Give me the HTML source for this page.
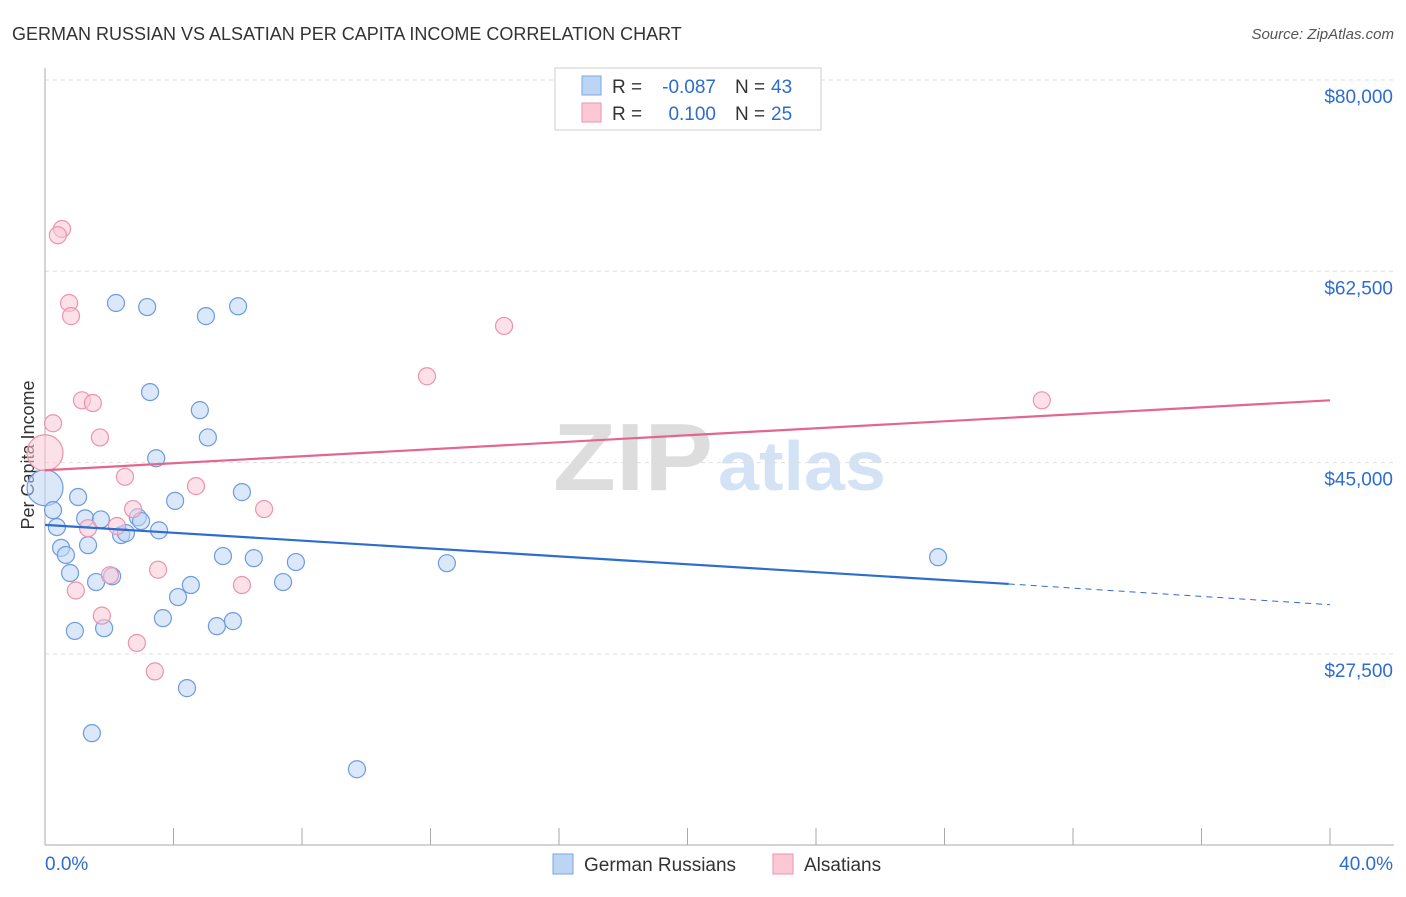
<!DOCTYPE html>
<html><head><meta charset="utf-8"><style>
body{margin:0;background:#fff;font-family:"Liberation Sans",sans-serif}
svg text{font-family:"Liberation Sans",sans-serif}
</style></head><body>
<svg id="c" width="1406" height="892">
<text x="12" y="40" font-size="18" fill="#333">GERMAN RUSSIAN VS ALSATIAN PER CAPITA INCOME CORRELATION CHART</text>
<text x="1394" y="39" font-size="15" fill="#555" text-anchor="end" font-style="italic">Source: ZipAtlas.com</text>
<text x="553" y="490" font-size="96" fill="#ddd" font-family="Liberation Serif" font-weight="bold" textLength="160" lengthAdjust="spacingAndGlyphs">ZIP</text>
<text x="718" y="490" font-size="70" fill="#d3e3f5" font-weight="bold" textLength="168" lengthAdjust="spacingAndGlyphs">atlas</text>
<text transform="translate(34,455) rotate(-90)" font-size="18" fill="#333" text-anchor="middle">Per Capita Income</text>
<g id="grid"></g><g id="marks"></g><g id="trend"></g>
<g>
<rect x="555" y="68" width="266" height="62" fill="#fff" stroke="#ccc"/>
<rect x="582" y="76" width="19" height="19" fill="#bcd5f5" stroke="#7aa6e0"/>
<rect x="582" y="103" width="19" height="19" fill="#fbc8d6" stroke="#ec93ad"/>
<text x="612" y="93" font-size="19" fill="#333">R =</text>
<text x="716" y="93" font-size="19" fill="#2d6cd0" text-anchor="end">-0.087</text>
<text x="735" y="93" font-size="19" fill="#333">N =</text>
<text x="771" y="93" font-size="19" fill="#2d6cd0">43</text>
<text x="612" y="120" font-size="19" fill="#333">R =</text>
<text x="716" y="120" font-size="19" fill="#2d6cd0" text-anchor="end">0.100</text>
<text x="735" y="120" font-size="19" fill="#333">N =</text>
<text x="771" y="120" font-size="19" fill="#2d6cd0">25</text>
</g>
<g>
<rect x="553" y="854" width="20" height="20" fill="#bcd5f5" stroke="#7aa6e0"/>
<text x="584" y="871" font-size="19" fill="#333">German Russians</text>
<rect x="773" y="854" width="20" height="20" fill="#fbc8d6" stroke="#ec93ad"/>
<text x="804" y="871" font-size="19" fill="#333">Alsatians</text>
</g>
</svg>
<script>
const yTicks=[80000,62500,45000,27500];
const yTickLabels=["$80,000","$62,500","$45,000","$27,500"];
const blueX=[2.21,3.18,5.01,6.01,3.27,4.82,5.07,3.46,0,1.03,4.05,6.13,0.25,1.25,1.74,2.89,2.99,0.37,2.37,2.52,3.55,0.5,1.34,0.65,5.54,6.5,7.81,12.51,27.8,0.78,1.59,2.09,4.54,7.41,4.14,3.67,5.35,5.85,0.93,1.84,4.42,1.46,9.71];
const blueY=[59600,59230,58400,59300,51450,49800,47300,45400,42700,41850,41500,42300,40650,39900,39800,40000,39650,39100,38370,38550,38800,37200,37450,36550,36450,36260,35900,35800,36350,34900,34070,34600,33800,34070,32700,30770,30040,30500,29600,29850,24370,20250,16950];
const pinkX=[0.53,0.4,0.75,0.81,14.29,11.89,31.03,1.15,1.49,0.25,1.71,0,2.49,4.7,2.74,6.82,1.34,2.24,3.52,2.02,6.13,0.96,1.77,2.86,3.42];
const pinkY=[66370,65800,59600,58400,57500,52900,50700,50700,50450,48600,47300,45900,43700,42850,40750,40750,39000,39200,35200,34700,33800,33300,31000,28500,25900];
const blueTrend=[39300,33900,32000];
const pinkTrend=[44300,50700];
const NS="http://www.w3.org/2000/svg";
const X=v=>45+v/40*1285, Y=v=>80+(80000-v)/17500*191.3;
function mk(t,a,p){const e=document.createElementNS(NS,t);for(const k in a)e.setAttribute(k,a[k]);p.appendChild(e);return e;}
const g=document.getElementById('grid'),m=document.getElementById('marks'),tr=document.getElementById('trend');
yTicks.forEach((v,i)=>{
 const l=mk('line',{x1:45,x2:1394,y1:Y(v),y2:Y(v),stroke:'#ddd','stroke-dasharray':'4,4'},g);
 
 
 const t=mk('text',{x:1393,y:Y(v)+23,'font-size':19,fill:'#2d6cd0','text-anchor':'end'},g);t.textContent=yTickLabels[i];
 
 
});
const ax=mk('line',{x1:45,x2:45,y1:68,y2:845,stroke:'#aaa'},g);


const bx=mk('line',{x1:45,x2:1394,y1:845,y2:845,stroke:'#aaa'},g);


for(let i=1;i<=10;i++){const t=mk('line',{x1:X(i*4),x2:X(i*4),y1:828,y2:845,stroke:'#aaa'},g);
 
 }
[["0.0%",45,'start'],["40.0%",1393,'end']].forEach(a=>{const t=mk('text',{x:a[1],y:870,'font-size':19,fill:'#2d6cd0','text-anchor':a[2]},g);t.textContent=a[0];
 
 });
function pts(xs,ys,f,s,name){xs.forEach((x,i)=>{const c=mk('circle',{cx:X(x),cy:Y(ys[i]),r:x===0?18:8.5,fill:f,'fill-opacity':0.55,stroke:s,'stroke-width':1.2},m);
 
 });}
pts(blueX,blueY,'#bcd5f5','#6d9be0','german-russian-point');
pts(pinkX,pinkY,'#fbc8d6','#ec93ad','alsatian-point');
let l=mk('line',{x1:X(0),y1:Y(blueTrend[0]),x2:X(30),y2:Y(blueTrend[1]),stroke:'#2d6cd0','stroke-width':2.2},tr);


l=mk('line',{x1:X(30),y1:Y(blueTrend[1]),x2:X(40),y2:Y(blueTrend[2]),stroke:'#2d6cd0','stroke-width':1,'stroke-dasharray':'6,5'},tr);


l=mk('line',{x1:X(0),y1:Y(pinkTrend[0]),x2:X(40),y2:Y(pinkTrend[1]),stroke:'#e4668e','stroke-width':2.2},tr);


</script>
</body></html>
